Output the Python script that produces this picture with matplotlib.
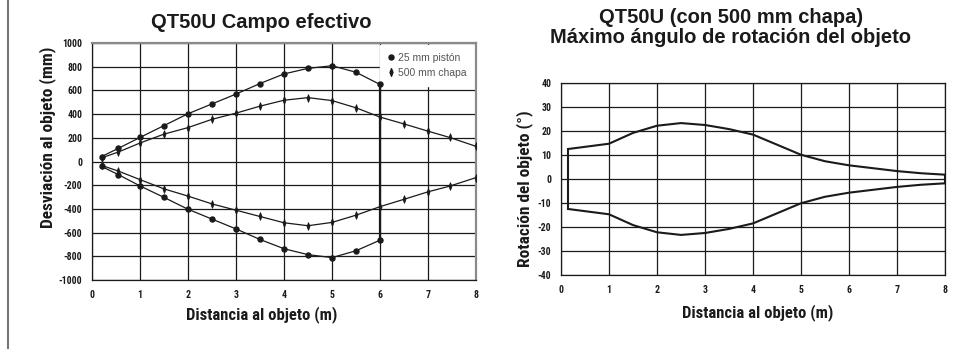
import matplotlib
matplotlib.use("Agg")
import matplotlib.pyplot as plt
from matplotlib.lines import Line2D
from matplotlib.path import Path as MPath

# --- data: left panel (deviation vs distance) ------------------------------
x_piston = [0.2, 0.55, 1.0, 1.5, 2.0, 2.5, 3.0, 3.5, 4.0, 4.5, 5.0, 5.5, 6.0]
piston_upper = [42, 111, 203, 303, 403, 486, 569, 658, 739, 786, 808, 753, 650]
piston_lower = [-42, -111, -206, -303, -403, -486, -569, -658, -736, -786, -811, -753, -664]

x_chapa = [0.2, 0.55, 1.0, 1.5, 2.0, 2.5, 3.0, 3.5, 4.0, 4.5, 5.0, 5.5, 6.0, 6.5, 7.0, 7.45, 8.0]
chapa_upper = [31, 80, 156, 231, 286, 356, 408, 467, 517, 539, 514, 453, 375, 317, 256, 203, 128]
chapa_lower = [-33, -81, -153, -231, -292, -358, -411, -464, -517, -542, -514, -453, -381, -319, -256, -208, -136]

# --- data: right panel (rotation angle vs distance) ------------------------
x_rot = [0.15, 1.0, 1.5, 2.0, 2.5, 3.0, 3.5, 4.0, 4.5, 5.0, 5.5, 6.0, 7.0, 7.5, 8.0]
rot_upper = [12.5, 14.7, 19.2, 22.2, 23.3, 22.5, 20.8, 18.5, 14.3, 10.1, 7.4, 5.7, 3.3, 2.4, 1.8]
rot_lower = [-v for v in rot_upper]

left_yticks = [1000, 800, 600, 400, 200, 0, -200, -400, -600, -800, -1000]
right_yticks = [40, 30, 20, 10, 0, -10, -20, -30, -40]
xticks = [0, 1, 2, 3, 4, 5, 6, 7, 8]

NARROW = ["Roboto Condensed", "DejaVu Sans"]
WIDE = ["Liberation Sans", "DejaVu Sans"]
INK = "#1a1a1a"

# thin vertical diamond used for the "500 mm chapa" series
THIN_DIAMOND = MPath([(0, 1), (0.38, 0), (0, -1), (-0.38, 0), (0, 1)],
                     [MPath.MOVETO, MPath.LINETO, MPath.LINETO, MPath.LINETO, MPath.CLOSEPOLY])

fig = plt.figure(figsize=(9.76, 3.5), dpi=100)
W, H = 976, 350


def px_axes(left, top, right, bottom):
    return fig.add_axes([left / W, 1 - bottom / H, (right - left) / W, (bottom - top) / H])


def style_ticks(ax, yticks):
    ax.set_xticks(xticks)
    ax.set_yticks(yticks)
    ax.set_xticklabels([str(t) for t in xticks], family=NARROW, weight="bold", fontsize=7, color=INK)
    ax.set_yticklabels([str(t) for t in yticks], family=NARROW, weight="bold", fontsize=7, color=INK)
    ax.tick_params(length=0, pad=7)
    ax.grid(True, color=INK, linewidth=0.9, zorder=0.5)
    ax.set_axisbelow(True)


# --- left panel ---------------------------------------------------------------
ax1 = px_axes(92, 43, 476, 280)
ax1.set_xlim(0, 8)
ax1.set_ylim(-1000, 1000)
style_ticks(ax1, left_yticks)
for s in ("left", "bottom"):
    ax1.spines[s].set_color(INK)
    ax1.spines[s].set_linewidth(0.9)
for s in ("right", "top"):
    ax1.spines[s].set_color("#8a8a8a")
    ax1.spines[s].set_linewidth(1.6)

kw = dict(color=INK, linewidth=0.9, markersize=3.6, zorder=3)
ax1.plot(x_piston, piston_upper, marker="o", **kw)
ax1.plot(x_piston, piston_lower, marker="o", **kw)
ax1.plot([x_piston[-1], x_piston[-1]], [piston_upper[-1], piston_lower[-1]], color=INK, linewidth=1.6, zorder=3)
kw_d = dict(color=INK, linewidth=0.9, marker=THIN_DIAMOND, markersize=5.5, markeredgewidth=0.6, zorder=3)
ax1.plot(x_chapa, chapa_upper, **kw_d)
ax1.plot(x_chapa, chapa_lower, **kw_d)

handles = [Line2D([], [], marker="o", linestyle="none", color=INK, markersize=3.6),
           Line2D([], [], marker=THIN_DIAMOND, linestyle="none", color=INK, markersize=5.5)]
leg = ax1.legend(handles, ["25 mm pistón", "500 mm chapa"], loc="upper right",
                 bbox_to_anchor=(1.0, 1.0), frameon=True, fancybox=False,
                 prop={"family": WIDE, "size": 7.5}, handlelength=0.5, handletextpad=0.4,
                 labelspacing=0.45, borderpad=0.8, borderaxespad=0.15)
leg.set_zorder(2)
leg.get_frame().set_edgecolor("white")
leg.get_frame().set_facecolor("white")
leg.get_frame().set_alpha(1)
for t in leg.get_texts():
    t.set_color("#555555")

fig.text(262 / W, 1 - 315 / H, "Distancia al objeto (m)", family=NARROW, weight="bold",
         fontsize=12, color=INK, ha="center", va="center")
fig.text(48 / W, 1 - 137 / H, "Desviación al objeto (mm)", family=NARROW, weight="bold",
         fontsize=12.5, color=INK, ha="center", va="center", rotation=90)
fig.text(261 / W, 1 - 28 / H, "QT50U Campo efectivo", family=WIDE, weight="bold",
         fontsize=14.5, color=INK, ha="center", va="baseline")

# --- right panel --------------------------------------------------------------
ax2 = px_axes(561, 83, 945, 275)
ax2.set_xlim(0, 8)
ax2.set_ylim(-40, 40)
style_ticks(ax2, right_yticks)
for s in ax2.spines.values():
    s.set_color(INK)
    s.set_linewidth(0.9)

ax2.plot(x_rot, rot_upper, color=INK, linewidth=1.5)
ax2.plot(x_rot, rot_lower, color=INK, linewidth=1.5)
ax2.plot([x_rot[0], x_rot[0]], [rot_upper[0], rot_lower[0]], color=INK, linewidth=1.5)
ax2.plot([x_rot[-1], x_rot[-1]], [rot_upper[-1], rot_lower[-1]], color=INK, linewidth=1.5)

fig.text(758 / W, 1 - 313 / H, "Distancia al objeto (m)", family=NARROW, weight="bold",
         fontsize=12, color=INK, ha="center", va="center")
fig.text(525 / W, 1 - 189 / H, "Rotación del objeto (°)", family=NARROW, weight="bold",
         fontsize=12.5, color=INK, ha="center", va="center", rotation=90)
fig.text(731 / W, 1 - 23 / H, "QT50U (con 500 mm chapa)", family=WIDE, weight="bold",
         fontsize=14.5, color=INK, ha="center", va="baseline")
fig.text(731 / W, 1 - 43 / H, "Máximo ángulo de rotación del objeto", family=WIDE, weight="bold",
         fontsize=14.5, color=INK, ha="center", va="baseline")

# page border on the left
fig.add_artist(Line2D([7.5 / W, 7.5 / W], [2 / H, 1], color="#777777", linewidth=1.5))

fig.savefig("out.png", dpi=100)
